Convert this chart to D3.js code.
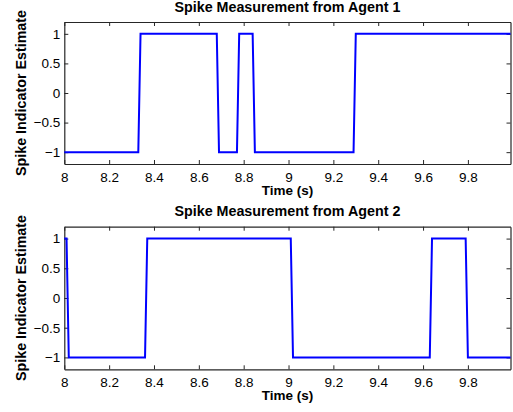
<!DOCTYPE html>
<html><head><meta charset="utf-8">
<script src="https://cdn.jsdelivr.net/npm/d3@7"></script>
<style>body{margin:0;background:#fff}svg{display:block}text{font-family:"Liberation Sans",Arial,Helvetica,sans-serif}</style>
</head><body><svg id="c" width="513" height="412"></svg>
<script>
const titles = ["Spike Measurement from Agent 1", "Spike Measurement from Agent 2"];
const xLabel = "Time (s)";
const yLabel = "Spike Indicator Estimate";
const xTicks = [8, 8.2, 8.4, 8.6, 8.8, 9, 9.2, 9.4, 9.6, 9.8];
const yTicks = [-1, -0.5, 0, 0.5, 1];
const xDomain = [8, 9.99];
const yDomain = [-1.2, 1.2];
const agent1Times = [8, 8.33, 8.34, 8.68, 8.69, 8.77, 8.78, 8.84, 8.85, 9.29, 9.30, 9.99];
const agent1Values = [-1, -1, 1, 1, -1, -1, 1, 1, -1, -1, 1, 1];
const agent2Times = [8, 8.01, 8.02, 8.36, 8.37, 9.01, 9.02, 9.63, 9.64, 9.79, 9.80, 9.99];
const agent2Values = [1, 1, -1, -1, 1, 1, -1, -1, 1, 1, -1, -1];

const series = [
  {times: agent1Times, values: agent1Values, title: titles[0], top: 22, bottom: 164},
  {times: agent2Times, values: agent2Values, title: titles[1], top: 226.7, bottom: 369.3}
];
const left = 64.3, right = 510.5;
const svg = d3.select("#c");
const fmt = d => (d < 0 ? "\u2212" : "") + String(Math.abs(d));

series.forEach(s => {
  const x = d3.scaleLinear().domain(xDomain).range([left, right]);
  const y = d3.scaleLinear().domain(yDomain).range([s.bottom, s.top]);
  const g = svg.append("g");
  const tl = 4;
  const ax = g.append("g").attr("transform", `translate(0,${s.bottom})`)
    .call(d3.axisBottom(x).tickValues(xTicks).tickSizeInner(-tl).tickSizeOuter(0).tickPadding(8).tickFormat(d => String(d)));
  const at = g.append("g").attr("transform", `translate(0,${s.top})`)
    .call(d3.axisTop(x).tickValues(xTicks).tickSizeInner(-tl).tickSizeOuter(0).tickFormat(""));
  const ay = g.append("g").attr("transform", `translate(${left},0)`)
    .call(d3.axisLeft(y).tickValues(yTicks).tickSizeInner(-tl).tickSizeOuter(0).tickPadding(4).tickFormat(fmt));
  const ar = g.append("g").attr("transform", `translate(${right},0)`)
    .call(d3.axisRight(y).tickValues(yTicks).tickSizeInner(-tl).tickSizeOuter(0).tickFormat(""));
  [ax, at, ay, ar].forEach(a => {
    a.select(".domain").attr("stroke", "#262626").attr("stroke-width", 1.2);
    a.selectAll(".tick line").attr("stroke", "#262626");
    a.selectAll("text").attr("font-size", 13.5).attr("fill", "#000")
      .attr("font-family", '"Liberation Sans",Arial,sans-serif');
  });
  const pts = s.times.map((t, i) => [t, s.values[i]]);
  g.append("path").datum(pts)
    .attr("fill", "none").attr("stroke", "#0000ff").attr("stroke-width", 2)
    .attr("stroke-linejoin", "miter")
    .attr("d", d3.line().x(d => x(d[0])).y(d => y(d[1])));
  g.append("text").attr("x", (left + right) / 2).attr("y", s.top - 10.5)
    .attr("text-anchor", "middle").attr("font-weight", "bold").attr("font-size", 14.3)
    .text(s.title);
  g.append("text").attr("x", (left + right) / 2).attr("y", s.bottom + 31)
    .attr("text-anchor", "middle").attr("font-weight", "bold").attr("font-size", 13.5)
    .text(xLabel);
  g.append("text").attr("transform", `translate(26,${(s.top + s.bottom) / 2}) rotate(-90)`)
    .attr("text-anchor", "middle").attr("font-weight", "bold").attr("font-size", 14.3)
    .text(yLabel);
});
</script></body></html>
